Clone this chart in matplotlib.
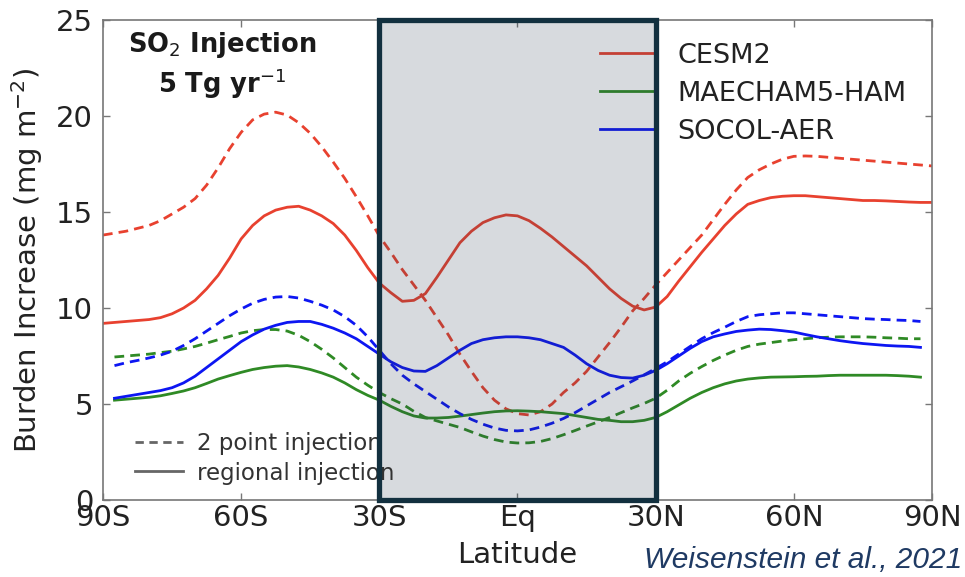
import numpy as np
import matplotlib.pyplot as plt
from matplotlib.lines import Line2D
from matplotlib.patches import Rectangle

# Zonal mean burden increase every 2.5 deg; CESM2 spans -90..90, the others -87.5..87.5
lat_cesm = np.arange(-90, 90.1, 2.5)
lat_other = np.arange(-87.5, 87.6, 2.5)

cesm_2pt = [13.8, 13.9, 14.0, 14.15,
            14.3, 14.55, 14.9, 15.25,
            15.7, 16.4, 17.3, 18.3,
            19.15, 19.8, 20.1, 20.2,
            20.05, 19.65, 19.1, 18.4,
            17.6, 16.75, 15.8, 14.8,
            13.75, 12.9, 12.0, 11.2,
            10.4, 9.5, 8.6, 7.6,
            6.7, 5.85, 5.2, 4.75,
            4.5, 4.43, 4.6, 5.0,
            5.6, 6.1, 6.7, 7.45,
            8.2, 9.0, 9.85, 10.5,
            11.2, 11.85, 12.5, 13.15,
            13.8, 14.6, 15.4, 16.15,
            16.8, 17.2, 17.5, 17.75,
            17.9, 17.92, 17.9, 17.85,
            17.8, 17.75, 17.7, 17.65,
            17.6, 17.55, 17.5, 17.45,
            17.4]
cesm_reg = [9.2, 9.25, 9.3, 9.35,
            9.4, 9.5, 9.7, 10.0,
            10.4, 11.0, 11.7, 12.6,
            13.6, 14.3, 14.8, 15.1,
            15.25, 15.3, 15.1, 14.8,
            14.4, 13.8, 13.0, 12.1,
            11.3, 10.8, 10.35, 10.4,
            10.75, 11.6, 12.5, 13.4,
            14.0, 14.45, 14.7, 14.85,
            14.8, 14.55, 14.15, 13.7,
            13.2, 12.7, 12.2, 11.6,
            11.0, 10.5, 10.1, 9.9,
            10.05, 10.6, 11.4, 12.15,
            12.9, 13.6, 14.3, 14.9,
            15.4, 15.6, 15.75, 15.82,
            15.85, 15.85, 15.8, 15.75,
            15.7, 15.65, 15.6, 15.6,
            15.58, 15.55, 15.52, 15.5,
            15.5]
maecham_2pt = [7.45, 7.5, 7.55,
               7.6, 7.68, 7.75, 7.87,
               8.0, 8.17, 8.35, 8.52,
               8.7, 8.82, 8.88, 8.88,
               8.8, 8.58, 8.25, 7.85,
               7.4, 6.9, 6.4, 5.98,
               5.6, 5.28, 5.0, 4.62,
               4.3, 4.12, 3.95, 3.78,
               3.55, 3.33, 3.15, 3.02,
               2.97, 2.98, 3.05, 3.2,
               3.4, 3.62, 3.85, 4.07,
               4.3, 4.55, 4.8, 5.03,
               5.3, 5.72, 6.2, 6.6,
               6.95, 7.27, 7.55, 7.8,
               8.0, 8.12, 8.2, 8.28,
               8.35, 8.4, 8.45, 8.48,
               8.5, 8.5, 8.5, 8.48,
               8.45, 8.43, 8.4, 8.4]
maecham_reg = [5.2, 5.25, 5.3,
               5.35, 5.43, 5.55, 5.68,
               5.85, 6.07, 6.3, 6.48,
               6.65, 6.8, 6.9, 6.97,
               7.0, 6.93, 6.8, 6.62,
               6.4, 6.1, 5.75, 5.45,
               5.2, 4.88, 4.6, 4.38,
               4.27, 4.27, 4.3, 4.37,
               4.45, 4.53, 4.6, 4.64,
               4.65, 4.63, 4.6, 4.55,
               4.5, 4.4, 4.3, 4.2,
               4.15, 4.08, 4.08, 4.15,
               4.3, 4.6, 4.95, 5.3,
               5.6, 5.85, 6.05, 6.2,
               6.3, 6.36, 6.4, 6.41,
               6.42, 6.44, 6.45, 6.48,
               6.5, 6.5, 6.5, 6.5,
               6.5, 6.48, 6.45, 6.4]
socol_2pt = [7.0, 7.15, 7.27,
             7.4, 7.55, 7.75, 8.05,
             8.4, 8.8, 9.2, 9.6,
             9.95, 10.25, 10.45, 10.57,
             10.6, 10.52, 10.35, 10.15,
             9.9, 9.55, 9.1, 8.5,
             7.8, 7.1, 6.5, 6.05,
             5.65, 5.25, 4.85, 4.5,
             4.2, 3.95, 3.75, 3.63,
             3.6, 3.65, 3.8, 4.0,
             4.25, 4.55, 4.9, 5.25,
             5.6, 5.9, 6.2, 6.52,
             6.85, 7.2, 7.6, 8.0,
             8.4, 8.72, 9.0, 9.3,
             9.55, 9.65, 9.7, 9.75,
             9.75, 9.7, 9.65, 9.6,
             9.55, 9.5, 9.45, 9.42,
             9.4, 9.37, 9.35, 9.3]
socol_reg = [5.3, 5.4, 5.5,
             5.6, 5.7, 5.85, 6.1,
             6.45, 6.9, 7.35, 7.8,
             8.25, 8.6, 8.9, 9.1,
             9.25, 9.3, 9.3, 9.15,
             8.95, 8.7, 8.4, 8.0,
             7.6, 7.2, 6.9, 6.72,
             6.7, 7.0, 7.4, 7.8,
             8.15, 8.35, 8.45, 8.5,
             8.5, 8.45, 8.35, 8.15,
             7.95, 7.55, 7.1, 6.75,
             6.5, 6.38, 6.35, 6.5,
             6.75, 7.1, 7.5, 7.9,
             8.25, 8.5, 8.65, 8.78,
             8.85, 8.9, 8.88, 8.82,
             8.75, 8.62, 8.5, 8.4,
             8.3, 8.22, 8.15, 8.1,
             8.05, 8.02, 8.0, 7.95]

models = ['CESM2', 'MAECHAM5-HAM', 'SOCOL-AER']
colors = ['#e8412f', '#2f8a25', '#0d16f2']

xticks = [-90, -60, -30, 0, 30, 60, 90]
xticklabels = ['90S', '60S', '30S', 'Eq', '30N', '60N', '90N']
yticks = [0, 5, 10, 15, 20, 25]

fig = plt.figure(figsize=(9.65, 5.77), dpi=100)
ax = fig.add_axes([0.1067, 0.1334, 0.8591, 0.8319])

series = [
    (lat_cesm, cesm_2pt, cesm_reg, colors[0]),
    (lat_other, maecham_2pt, maecham_reg, colors[1]),
    (lat_other, socol_2pt, socol_reg, colors[2]),
]
for lat, two_pt, regional, c in series:
    ax.plot(lat, two_pt, color=c, lw=2.0, ls=(0, (3.5, 2.2)))
    ax.plot(lat, regional, color=c, lw=2.0, solid_joinstyle='round')

ax.set_xlim(-90, 90)
ax.set_ylim(0, 25)
ax.set_xticks(xticks)
ax.set_xticklabels(xticklabels)
ax.set_yticks(yticks)
ax.tick_params(direction='in', length=5, width=1.0, color='#777777', labelsize=21,
               labelcolor='#222222', top=True, right=True)
ax.tick_params(axis='x', pad=3)
ax.tick_params(axis='y', pad=7)
for s in ax.spines.values():
    s.set_color('#777777')
    s.set_linewidth(1.2)

ax.set_xlabel('Latitude', fontsize=21, color='#222222', labelpad=6)
ax.set_ylabel('Burden Increase (mg m$^{-2}$)', fontsize=21, color='#222222', labelpad=8)

ax.text(0.1435, 0.948, 'SO$_2$ Injection', transform=ax.transAxes, ha='center', va='center',
        fontsize=18.5, fontweight='bold', color='#1a1a1a')
ax.text(0.1435, 0.868, '5 Tg yr$^{-1}$', transform=ax.transAxes, ha='center', va='center',
        fontsize=18.5, fontweight='bold', color='#1a1a1a')

# model colour key
model_handles = [Line2D([], [], color=c, lw=2.0) for c in colors]
leg1 = ax.legend(model_handles, models, loc='upper left', bbox_to_anchor=(0.5995, 0.953),
                 frameon=False, fontsize=19.5, handlelength=2.1, handletextpad=0.75,
                 labelspacing=0.45, borderpad=0, borderaxespad=0, labelcolor='#222222')
ax.add_artist(leg1)

# line style key
style_handles = [Line2D([], [], color='#666666', lw=2.0, ls=(0, (3.0, 2.0))),
                 Line2D([], [], color='#666666', lw=2.0)]
ax.legend(style_handles, ['2 point injection', 'regional injection'], loc='upper left',
          bbox_to_anchor=(0.0386, 0.142), frameon=False, fontsize=16.5, handlelength=2.1,
          handletextpad=0.6, labelspacing=0.29, borderpad=0, borderaxespad=0,
          labelcolor='#333333')

# tropical band highlight
ax.add_patch(Rectangle((-30, 0), 60, 25, facecolor='#2c3e50', alpha=0.19, edgecolor='none',
                       zorder=5, clip_on=False))
ax.add_patch(Rectangle((-30, 0), 60, 25, facecolor='none', edgecolor='#12303f', lw=3.8,
                       zorder=6, clip_on=False))

fig.text(0.997, 0.006, 'Weisenstein et al., 2021', ha='right', va='bottom', fontsize=21.5,
         style='italic', family='Liberation Sans', color='#1f3a63')

fig.savefig('out.png', dpi=100)
